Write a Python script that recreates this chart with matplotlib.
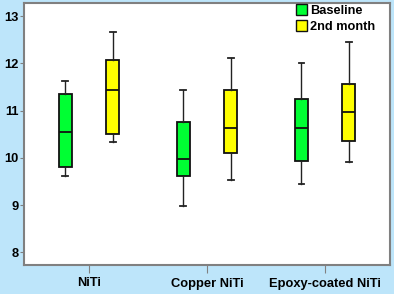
import matplotlib
matplotlib.use("Agg")
import matplotlib.pyplot as plt
from matplotlib.patches import Patch

categories = ["NiTi", "Copper NiTi", "Epoxy-coated NiTi"]
series = ["Baseline", "2nd month"]
colors = ["#00ff33", "#ffff00"]
# (whislo, q1, med, q3, whishi)
baseline = [(9.62, 9.80, 10.54, 11.35, 11.63),
            (8.97, 9.61, 9.97, 10.75, 11.43),
            (9.45, 9.94, 10.64, 11.24, 12.01)]
month2 = [(10.33, 10.50, 11.43, 12.08, 12.66),
          (9.52, 10.10, 10.64, 11.43, 12.11),
          (9.92, 10.36, 10.97, 11.57, 12.46)]
yticks = [8, 9, 10, 11, 12, 13]

fig = plt.figure(figsize=(3.94, 2.94), dpi=100)
fig.patch.set_facecolor("#bde5fa")
ax = fig.add_axes([24/394, 1 - 265/294, (390-24)/394, (265-3)/294])
ax.set_facecolor("white")

offset = 0.2
width = 0.105
for si, (data, col) in enumerate(zip([baseline, month2], colors)):
    stats = []
    for v in data:
        stats.append(dict(whislo=v[0], q1=v[1], med=v[2], q3=v[3], whishi=v[4], fliers=[]))
    pos = [i + (offset if si else -offset) for i in range(len(categories))]
    ax.bxp(stats, positions=pos, widths=width, patch_artist=True, showfliers=False,
           boxprops=dict(facecolor=col, edgecolor="#111111", linewidth=1.3),
           medianprops=dict(color="#111111", linewidth=1.3),
           whiskerprops=dict(color="#222222", linewidth=1.0),
           capprops=dict(color="#222222", linewidth=1.3),
           capwidths=0.05)

ax.set_xlim(-0.55, 2.55)
ax.set_ylim(7.73, 13.28)
ax.set_yticks(yticks)
ax.set_yticklabels([str(t) for t in yticks], fontsize=9.3, fontweight="bold", family="Liberation Sans")
ax.set_xticks(range(len(categories)))
ax.set_xticklabels(categories, fontsize=9.3, fontweight="bold", family="Liberation Sans")
for s in ax.spines.values():
    s.set_color("#808080")
    s.set_linewidth(1.5)
ax.tick_params(axis="y", length=3, color="#808080", pad=1)
ax.tick_params(axis="x", length=6, color="#808080", pad=3)

handles = [Patch(facecolor=c, edgecolor="#111111", label=l) for c, l in zip(colors, series)]
leg = ax.legend(handles=handles, loc="upper left", bbox_to_anchor=(0.743, 0.995),
                frameon=False, prop=dict(family="Liberation Sans", weight="bold", size=9.2),
                handlelength=0.9, handleheight=0.9, handletextpad=0.2, labelspacing=0.25,
                borderaxespad=0.0, borderpad=0.0)

fig.savefig("out.png", dpi=100, facecolor=fig.get_facecolor())
